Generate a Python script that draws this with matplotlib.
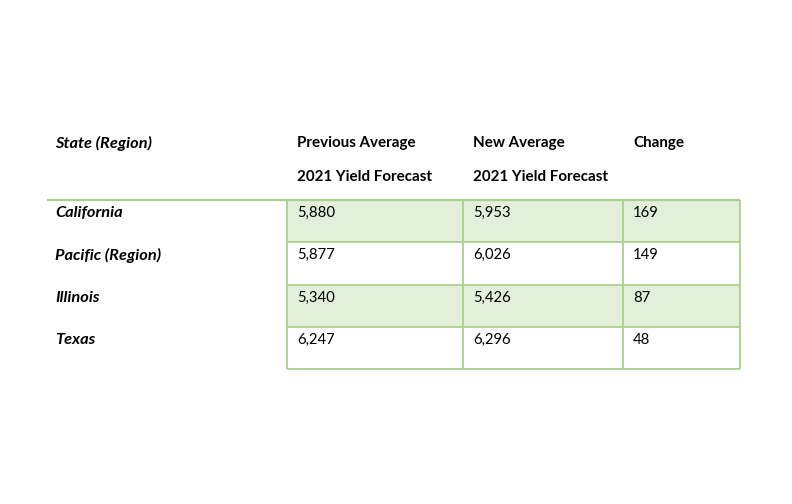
import matplotlib
matplotlib.use("Agg")
import matplotlib.pyplot as plt
from matplotlib.patches import Rectangle

states = ["California", "Pacific (Region)", "Illinois", "Texas"]
previous = ["5,880", "5,877", "5,340", "6,247"]
new = ["5,953", "6,026", "5,426", "6,296"]
change = ["169", "149", "87", "48"]
header_state = "State (Region)"
header_prev = ["Previous Average", "2021 Yield Forecast"]
header_new = ["New Average", "2021 Yield Forecast"]
header_change = "Change"

LINE = "#a9d18e"
FILL = "#e2efda"
FONT = ["Lato", "DejaVu Sans"]
FS_NUM = 10.7
FS_HEAD = 10.9
FS_ITAL = 11.8

fig = plt.figure(figsize=(7.92, 5.04), dpi=100)
ax = fig.add_axes([0, 0, 1, 1])
ax.set_xlim(0, 792)
ax.set_ylim(504, 0)
ax.axis("off")

col_x = [287, 463, 623, 740]
row_top = 200
row_h = 42.3
state_x = 55
pad = 10

# header
ax.text(state_x, 143, header_state, fontsize=FS_ITAL, fontweight="bold", style="italic",
        family=FONT, va="center", ha="left", color="black")
for cx, lines in [(col_x[0], header_prev), (col_x[1], header_new)]:
    for j, t in enumerate(lines):
        ax.text(cx + pad, 143 + 34 * j, t, fontsize=FS_HEAD, fontweight="bold",
                family=FONT, va="center", ha="left", color="black")
ax.text(col_x[2] + pad, 143, header_change, fontsize=FS_HEAD, fontweight="bold",
        family=FONT, va="center", ha="left", color="black")

# shading
for i in range(len(states)):
    top = row_top + i * row_h
    if i % 2 == 0:
        ax.add_patch(Rectangle((col_x[0], top), col_x[-1] - col_x[0], row_h,
                               facecolor=FILL, edgecolor="none", zorder=1))

# grid lines
ax.plot([47, col_x[-1]], [row_top, row_top], color=LINE, lw=1.6, zorder=3,
        solid_capstyle="butt")
for i in range(1, len(states) + 1):
    y = row_top + i * row_h
    ax.plot([col_x[0], col_x[-1]], [y, y], color=LINE, lw=1.3, zorder=3,
            solid_capstyle="butt")
bottom = row_top + len(states) * row_h
for cx in col_x:
    ax.plot([cx, cx], [row_top, bottom], color=LINE, lw=1.3, zorder=3,
            solid_capstyle="butt")

for i, s in enumerate(states):
    yc = row_top + i * row_h + 13
    ax.text(state_x, yc, s, fontsize=FS_ITAL, fontweight="bold", style="italic",
            family=FONT, va="center", ha="left", color="black", zorder=4)
    for cx, vals in zip(col_x[:3], [previous, new, change]):
        ax.text(cx + pad, yc, vals[i], fontsize=FS_NUM, family=FONT,
                va="center", ha="left", color="black", zorder=4)

fig.savefig("out.png", dpi=100, facecolor="white")
